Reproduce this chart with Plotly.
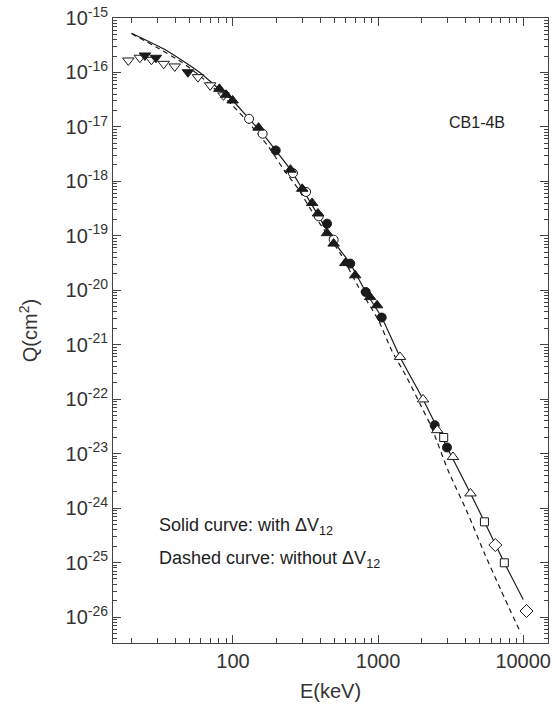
import plotly.graph_objects as go

# Solid curve (with dV12)
solid_E = [20.0, 34.8, 58.7, 78.5, 99.4, 129, 160, 197, 249, 300, 390, 494, 643, 822, 1059, 1416, 2042, 2985, 4335, 5408, 7413, 10000]
solid_Q = [5.26e-16, 2.54e-16, 1.01e-16, 5.2e-17, 3.06e-17, 1.41e-17, 7.5e-18, 3.7e-18, 1.64e-18, 7.3e-19,
           2.28e-19, 7.9e-20, 3.09e-20, 9.3e-21, 3.16e-21, 5.97e-22, 9.9e-23, 1.3e-23, 1.86e-24, 5.6e-25, 9.9e-26, 2.1e-26]

# Dashed curve (without dV12)
dash_E = [20.0, 29.7, 44.1, 58.7, 99.3, 136, 173, 224, 281, 370, 550, 733, 1005, 1239, 1570, 1941, 2328, 3027, 4150, 5408, 7030, 9640]
dash_Q = [5.13e-16, 2.91e-16, 1.55e-16, 8.8e-17, 2.48e-17, 9.9e-18, 4.58e-18, 1.64e-18, 7.3e-19, 2.21e-19,
          4.71e-20, 1.15e-20, 2.82e-21, 7.9e-22, 2.57e-22, 8.3e-23, 3.1e-23, 5.0e-24, 8.0e-25, 1.48e-25, 3.1e-26, 5.0e-27]

# Data series
odt_E = [19.0, 22.8, 27.4, 33.3, 39.7, 57.3, 69.6, 86.0]
odt_Q = [1.66e-16, 1.86e-16, 1.71e-16, 1.44e-16, 1.29e-16, 8.2e-17, 5.8e-17, 3.8e-17]

fdt_E = [24.7, 29.4, 48.9]
fdt_Q = [2.05e-16, 1.86e-16, 1.01e-16]

fut_E = [80.6, 89.6, 99.4, 150, 249, 300, 351, 385, 445, 494, 594, 695, 881, 984]
fut_Q = [5.0e-17, 3.9e-17, 3.06e-17, 9.7e-18, 1.64e-18, 7.3e-19, 4.0e-19, 2.57e-19, 1.12e-19, 7.2e-20,
         3.16e-20, 1.88e-20, 7.5e-21, 5.3e-21]

fc_E = [197, 445, 643, 822, 1059, 2455, 2985]
fc_Q = [3.7e-18, 1.67e-19, 3.09e-20, 9.3e-21, 3.16e-21, 3.33e-23, 1.3e-23]

oc_E = [129, 160, 259, 319, 390, 494]
oc_Q = [1.41e-17, 7.5e-18, 1.42e-18, 6.4e-19, 2.28e-19, 8.5e-20]

out_E = [1416, 2042, 2557, 3280, 4335]
out_Q = [5.97e-22, 9.9e-23, 2.7e-23, 8.7e-24, 1.86e-24]

osq_E = [2832, 5408, 7413]
osq_Q = [1.98e-23, 5.6e-25, 9.9e-26]

odi_E = [6427, 10545]
odi_Q = [2.1e-25, 1.29e-26]

y_tick_exps = list(range(-15, -27, -1))
x_tick_vals = [100, 1000, 10000]

INK = "#1a1a1a"
FONT = "Liberation Sans, Arial, sans-serif"

fig = go.Figure()
fig.add_trace(go.Scatter(x=solid_E, y=solid_Q, mode="lines", line=dict(color=INK, width=1.2, shape="spline", smoothing=0.6), showlegend=False))
fig.add_trace(go.Scatter(x=dash_E, y=dash_Q, mode="lines", line=dict(color=INK, width=1.2, dash="5px,4px", shape="spline", smoothing=0.6), showlegend=False))

def add_pts(xs, ys, symbol, filled, size):
    fig.add_trace(go.Scatter(
        x=xs, y=ys, mode="markers", showlegend=False,
        marker=dict(symbol=symbol, size=size,
                    color=INK if filled else "white",
                    line=dict(color=INK, width=1))))

add_pts(odt_E, odt_Q, "triangle-down", False, 10)
add_pts(fdt_E, fdt_Q, "triangle-down", True, 10)
add_pts(oc_E, oc_Q, "circle", False, 9)
add_pts(fut_E, fut_Q, "triangle-up", True, 10)
add_pts(fc_E, fc_Q, "circle", True, 9)
add_pts(out_E, out_Q, "triangle-up", False, 10)
add_pts(osq_E, osq_Q, "square", False, 8)
add_pts(odi_E, odi_Q, "diamond", False, 10)

x_minor = [m * 10 ** d for d in (1, 2, 3) for m in range(2, 10)]
y_minor = [m * 10.0 ** d for d in range(-27, -15) for m in range(2, 10)]

axis_common = dict(
    showgrid=False, zeroline=False, showline=True, linecolor="#444", linewidth=1,
    mirror="allticks", ticks="inside", ticklen=8, tickcolor="#444", tickwidth=1,
    tickfont=dict(family=FONT, size=20, color="#333"),
)

fig.update_xaxes(
    type="log", range=[1.173, 4.171],
    tickmode="array", tickvals=x_tick_vals, ticktext=[str(v) for v in x_tick_vals],
    minor=dict(tickmode="array", tickvals=x_minor, ticks="inside", ticklen=5, tickcolor="#444", showgrid=False),
    title=dict(text="E(keV)", font=dict(family=FONT, size=20, color="#333"), standoff=12),
    **axis_common,
)
fig.update_yaxes(
    type="log", range=[-26.477, -15],
    tickmode="array", tickvals=[10.0 ** e for e in y_tick_exps],
    ticktext=["10<sup>%d</sup>" % e for e in y_tick_exps],
    minor=dict(tickmode="array", tickvals=y_minor, ticks="inside", ticklen=4, tickcolor="#444", showgrid=False),
    title=dict(text="Q(cm<sup>2</sup>)", font=dict(family=FONT, size=20, color="#333"), standoff=22),
    **axis_common,
)

fig.add_annotation(x=0.836, y=0.833, xref="paper", yref="paper", xanchor="center", yanchor="middle",
                   text="CB1-4B", showarrow=False,
                   font=dict(family=FONT, size=16, color="#222"))
fig.add_annotation(x=0.1, y=0.187, xref="paper", yref="paper", xanchor="left", yanchor="middle",
                   text="Solid curve: with \u0394V<sub>12</sub>", showarrow=False,
                   font=dict(family=FONT, size=18, color="#222"))
fig.add_annotation(x=0.1, y=0.133, xref="paper", yref="paper", xanchor="left", yanchor="middle",
                   text="Dashed curve: without \u0394V<sub>12</sub>", showarrow=False,
                   font=dict(family=FONT, size=18, color="#222"))

fig.update_layout(
    width=555, height=713,
    margin=dict(l=113, r=4, t=18, b=70),
    paper_bgcolor="white", plot_bgcolor="white",
    font=dict(family=FONT, color="#333"),
)

fig.write_html("out.html")
